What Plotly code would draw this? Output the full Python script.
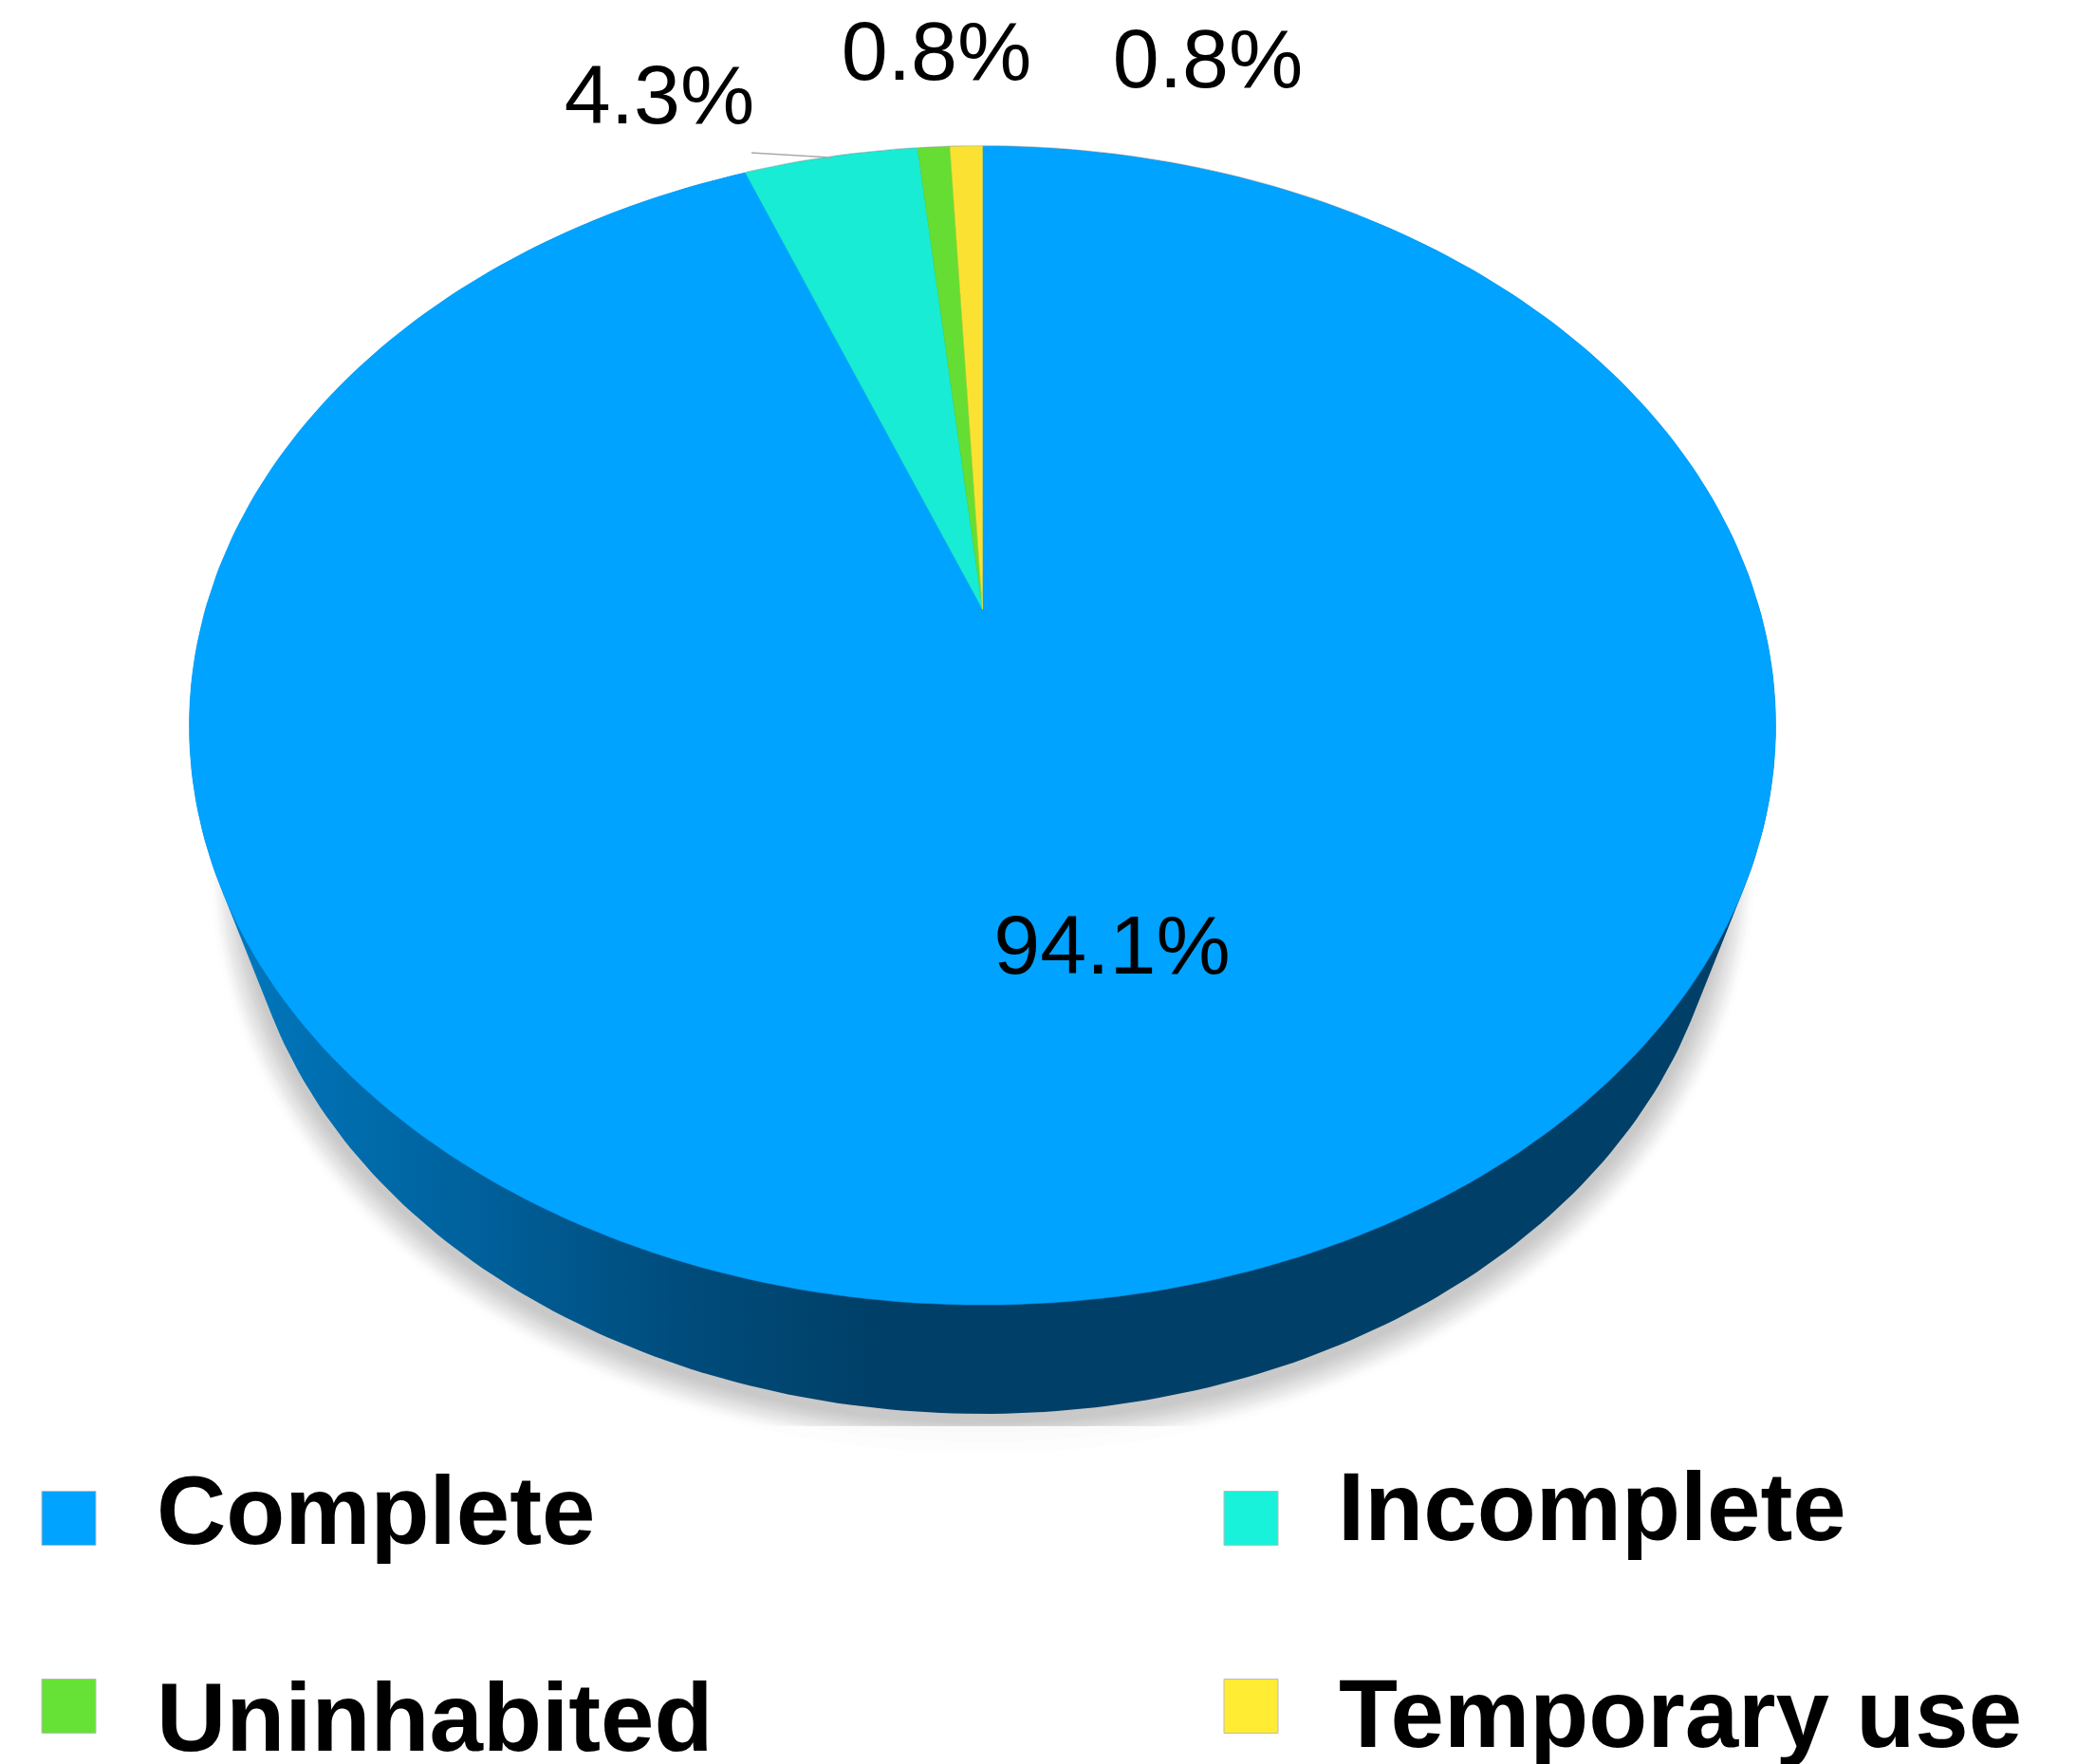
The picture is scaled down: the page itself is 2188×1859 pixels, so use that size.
import numpy as np
import plotly.graph_objects as go

# ---- data ----
categories = ["Complete", "Incomplete", "Uninhabited", "Temporary use"]
values = [94.1, 4.3, 0.8, 0.8]
value_labels = ["94.1%", "4.3%", "0.8%", "0.8%"]
colors = ["#00A3FF", "#18ECD4", "#66DD33", "#FBE232"]
legend_colors = ["#00A3FF", "#18F2DA", "#66E236", "#FFEC33"]

# ---- projection of the pie disc (pixels) ----
W, H = 2188, 1859
APEX_X, APEX_Y = 1035.5, 642
RX, RY, K = 819, 586, 0.2007
LOW_CY, LOW_A, LOW_B = 904, 781, 586
TOP_CY, TOP_A, TOP_B = 765, 836, 611


def project(theta):
    u, v = np.sin(theta), np.cos(theta)
    w = 1 + K * v
    return APEX_X + RX * u / w, APEX_Y - RY * v / w


def wedge(a0, a1):
    n = max(3, int(abs(a1 - a0) / np.radians(1)))
    t = np.linspace(a0, a1, n)
    x, y = project(t)
    return np.r_[APEX_X, x, APEX_X], np.r_[APEX_Y, y, APEX_Y]


def ellipse(cy, a, b, n=360):
    t = np.linspace(0, 2 * np.pi, n)
    return APEX_X + a * np.cos(t), cy + b * np.sin(t)


def hull(xs, ys):
    pts = sorted(set(zip(np.round(xs, 2).tolist(), np.round(ys, 2).tolist())))
    def half(points):
        out = []
        for p in points:
            while len(out) > 1 and ((out[-1][0] - out[-2][0]) * (p[1] - out[-2][1])
                                    - (out[-1][1] - out[-2][1]) * (p[0] - out[-2][0])) <= 0:
                out.pop()
            out.append(p)
        return out[:-1]
    h = half(pts) + half(pts[::-1])
    h.append(h[0])
    return [p[0] for p in h], [p[1] for p in h]


fig = go.Figure()


def shadow(e, alpha, clip):
    x, y = ellipse(LOW_CY + 8, LOW_A + e, LOW_B + e)
    fig.add_trace(go.Scatter(x=x, y=np.minimum(y, clip), mode="lines", fill="toself",
                             fillcolor=f"rgba(0,0,0,{alpha})", line=dict(width=0),
                             hoverinfo="skip", showlegend=False))


# soft shadow under the disc, cut off at the bottom as in the picture
for e in (34, 22, 12):
    shadow(e, 0.007, 1530)
N = 16
for i in range(N, 0, -1):
    shadow(30 * i / N, 0.2 / N, 1503)

# side wall, shaded from left to right
x1, y1 = ellipse(TOP_CY, TOP_A, TOP_B)
x2, y2 = ellipse(LOW_CY, LOW_A, LOW_B)
hx, hy = hull(np.r_[x1, x2], np.r_[y1, y2])
fig.add_trace(go.Scatter(
    x=hx, y=hy, mode="lines", fill="toself", line=dict(width=0), hoverinfo="skip", showlegend=False,
    fillcolor="#004068",
    fillgradient=dict(type="horizontal", start=235, stop=920,
                      colorscale=[[0, "#0078BE"], [0.35, "#00639F"], [0.7, "#004C7C"], [1, "#004068"]]),
))

# disc slices, clockwise from 12 o'clock
angles = np.cumsum([0] + values) / sum(values) * 2 * np.pi
for i, name in enumerate(categories):
    x, y = wedge(angles[i], angles[i + 1])
    fig.add_trace(go.Scatter(x=x, y=y, mode="lines", fill="toself", fillcolor=colors[i],
                             line=dict(width=0.5, color=colors[i]), name=name,
                             text=f"{name}: {value_labels[i]}", hoverinfo="text", showlegend=False))

# thin grey rim at the far edge and leader line
tx, ty = project(np.linspace(-0.37, 0.6, 60))
fig.add_trace(go.Scatter(x=tx, y=ty - 0.5, mode="lines", line=dict(width=1, color="rgba(150,150,150,0.45)"),
                         hoverinfo="skip", showlegend=False))
fig.add_trace(go.Scatter(x=[792, 876], y=[161, 166], mode="lines", line=dict(width=1.6, color="#aaaaaa"),
                         hoverinfo="skip", showlegend=False))

# value labels
label_x = [1172, 695, 987, 1273]
label_y = [1004, 108, 62, 70]
fig.add_trace(go.Scatter(x=label_x, y=label_y, mode="text", text=value_labels, textposition="middle center",
                         textfont=dict(family="Liberation Sans, Arial", size=88, color="#000000"),
                         hoverinfo="skip", showlegend=False))

# legend
swatch_x = [72.5, 1318.5, 72.5, 1318.5]
swatch_y = [1600, 1600, 1798, 1798]
text_x = [165, 1410, 165, 1411]
text_y = [1602, 1598, 1820, 1816]
order = ["Complete", "Incomplete", "Uninhabited", "Temporary use"]
fig.add_trace(go.Scatter(x=swatch_x, y=swatch_y, mode="markers",
                         marker=dict(symbol="square", size=57, color=legend_colors,
                                     line=dict(width=1, color="#bbbbbb")),
                         hoverinfo="skip", showlegend=False))
fig.add_trace(go.Scatter(x=text_x, y=text_y, mode="text", text=[f"<b>{c}</b>" for c in order],
                         textposition="middle right",
                         textfont=dict(family="Liberation Sans, Arial", size=101.5, color="#000000"),
                         hoverinfo="skip", showlegend=False))

fig.update_layout(
    width=W, height=H, margin=dict(l=0, r=0, t=0, b=0),
    paper_bgcolor="white", plot_bgcolor="white", showlegend=False,
    xaxis=dict(range=[0, W], visible=False, fixedrange=True),
    yaxis=dict(range=[H, 0], visible=False, fixedrange=True),
)
fig.write_html("out.html", config={"displayModeBar": False},
               post_script="document.body.style.margin='0';document.body.style.overflow='hidden';")
